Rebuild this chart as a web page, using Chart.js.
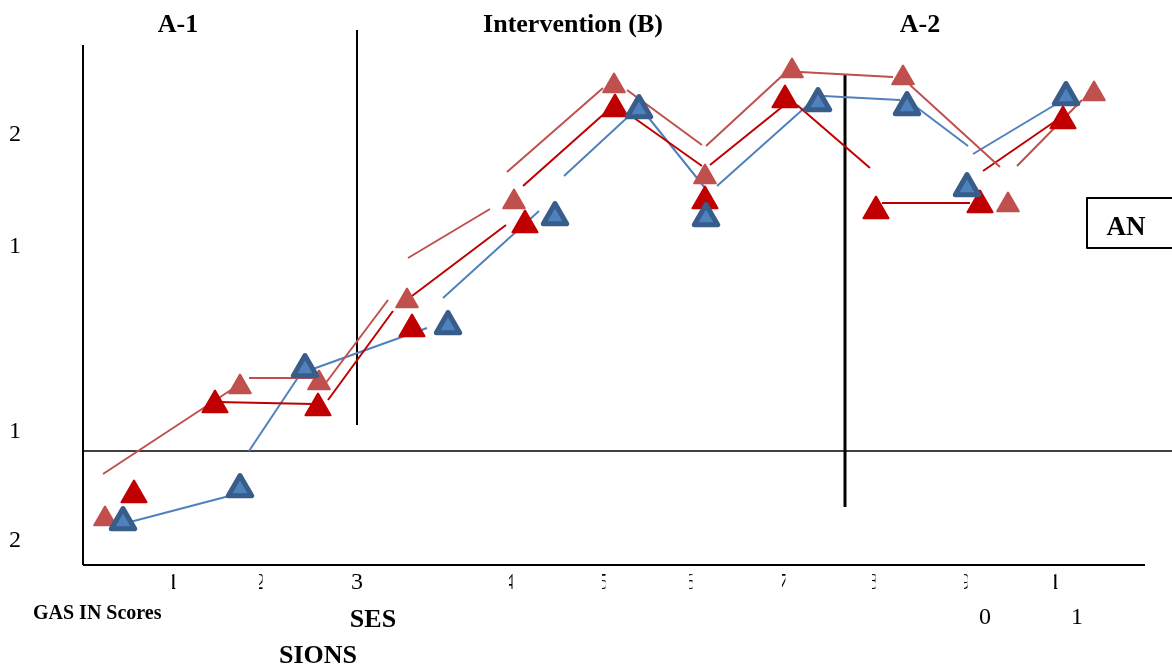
<!DOCTYPE html>
<html><head><meta charset="utf-8">
<script src="https://cdn.jsdelivr.net/npm/chart.js@4"></script>
<style>html,body{margin:0;padding:0;background:#fff}#wrap{width:1172px;height:668px;position:relative}</style>
</head><body><div id="wrap"><canvas id="c"></canvas></div>
<script>
// ---- data (x = session position, y = GAS scale position, both) ----
const xTickPos    = [0.90, 1.77, 2.74, 4.27, 5.20, 6.07, 7.00, 7.90, 8.82, 9.72];
const xTickLabels = ['1','2','3','4','5','6','7','8','9','1'];
const xTickPos2    = [9.02, 9.94];
const xTickLabels2 = ['0','1'];
const yTickPos    = [4.30, 3.18, 1.33, 0.24];
const yTickLabels = ['2','1','1','2'];

const darkRedX  = [0.51, 1.32, 2.35, 3.29, 4.42, 5.32, 6.22, 7.02, 7.93, 8.97, 9.80];
const darkRedY  = [0.70, 1.60, 1.57, 2.36, 3.40, 4.56, 3.64, 4.65, 3.54, 3.60, 4.44];
const lightRedX = [0.22, 1.57, 2.36, 3.24, 4.31, 5.31, 6.22, 7.09, 8.20, 9.25, 10.11];
const lightRedY = [0.46, 1.78, 1.82, 2.64, 3.63, 4.79, 3.88, 4.94, 4.87, 3.60, 4.71];
const blueX     = [0.40, 1.57, 2.22, 3.65, 4.72, 5.56, 6.23, 7.35, 8.24, 8.84, 9.83];
const blueY     = [0.43, 0.76, 1.96, 2.39, 3.48, 4.55, 3.47, 4.62, 4.58, 3.77, 4.68];

// connecting line pieces [x1, y1, x2, y2]
const lightRedSegs = [
  [0.20,0.91,1.57,1.81],[1.66,1.87,2.35,1.87],[2.39,1.77,3.05,2.65],[3.25,3.07,4.07,3.56],
  [4.24,3.93,5.20,4.77],[5.44,4.75,6.19,4.20],[6.23,4.19,7.00,4.90],[7.17,4.93,8.10,4.88],
  [8.27,4.80,9.17,3.98],[9.34,3.99,9.99,4.65]];
const darkRedSegs = [
  [1.34,1.63,2.30,1.61],[2.45,1.65,3.10,2.54],[3.29,2.69,4.23,3.40],[4.40,3.79,5.22,4.52],
  [5.47,4.50,6.19,3.99],[6.27,4.00,6.99,4.58],[7.14,4.60,7.87,3.97],[7.99,3.62,8.87,3.62],
  [9.00,3.94,9.74,4.45]];
const blueSegs = [
  [0.47,0.43,1.50,0.70],[1.66,1.14,2.22,1.98],[2.27,1.95,3.44,2.37],[3.60,2.67,4.56,3.54],
  [4.81,3.89,5.47,4.50],[5.57,4.58,6.22,3.77],[6.34,3.79,7.27,4.62],[7.40,4.69,8.17,4.65],
  [8.32,4.59,8.85,4.19],[8.90,4.11,9.75,4.62]];

// phase-change / reference lines
const phaseLines = [ {x:2.74, y1:5.35, y2:1.40, w:2}, {x:7.62, y1:4.90, y2:0.58, w:3} ];
const baselineY = 1.14;

function pts(xs, ys){ return xs.map((x,i)=>({x:x, y:ys[i]})); }
function segData(segs){
  const out=[];
  segs.forEach((s,i)=>{
    if(i){ const p=segs[i-1]; out.push({x:(p[2]+s[0])/2, y:null}); }
    out.push({x:s[0],y:s[1]},{x:s[2],y:s[3]});
  });
  return out;
}

const SERIF = '"Liberation Serif", "DejaVu Serif", serif';

const deco = {
  id:'deco',
  beforeDatasetDraw(chart){ chart.ctx.lineJoin='round'; chart.ctx.lineCap='round'; },
  beforeDatasetsDraw(chart){
    const {ctx, chartArea:a, scales:{x,y}} = chart;
    ctx.save();
    ctx.strokeStyle='#000';
    ctx.lineCap='butt';
    ctx.lineWidth=2;
    ctx.beginPath(); ctx.moveTo(a.left, a.top); ctx.lineTo(a.left, a.bottom); ctx.stroke();
    ctx.beginPath(); ctx.moveTo(a.left, a.bottom); ctx.lineTo(a.right, a.bottom); ctx.stroke();
    ctx.lineWidth=1.6;
    const by=y.getPixelForValue(baselineY);
    ctx.beginPath(); ctx.moveTo(a.left, by); ctx.lineTo(chart.width, by); ctx.stroke();
    phaseLines.forEach(p=>{
      ctx.lineWidth=p.w;
      const px=x.getPixelForValue(p.x);
      ctx.beginPath(); ctx.moveTo(px, y.getPixelForValue(p.y1)); ctx.lineTo(px, y.getPixelForValue(p.y2)); ctx.stroke();
    });
    ctx.restore();
  },
  afterDraw(chart){
    const {ctx, chartArea:a, scales:{x,y}} = chart;
    ctx.save();
    ctx.fillStyle='#000';
    ctx.textAlign='center'; ctx.textBaseline='middle';
    ctx.font='24px '+SERIF;
    yTickLabels.forEach((t,i)=>{ ctx.fillText(t, 15, y.getPixelForValue(yTickPos[i])); });
    ctx.font='24px '+SERIF;
    xTickLabels.forEach((t,i)=>{
      const px=x.getPixelForValue(xTickPos[i]);
      ctx.save();
      if(i!==2){ ctx.beginPath(); ctx.rect(px-1, a.bottom, 3.5, 60); ctx.clip(); }
      ctx.fillText(t, px, 583);
      ctx.restore();
    });
    xTickLabels2.forEach((t,i)=>{ ctx.fillText(t, x.getPixelForValue(xTickPos2[i]), 618); });
    ctx.font='bold 26px '+SERIF;
    ctx.fillText('A-1', 178, 25);
    ctx.fillText('Intervention (B)', 573, 25);
    ctx.fillText('A-2', 920, 25);
    ctx.font='bold 20px '+SERIF;
    ctx.textAlign='left';
    ctx.fillText('GAS IN Scores', 33, 614);
    ctx.textAlign='center';
    ctx.font='bold 26px '+SERIF;
    ctx.fillText('SES', 373, 620);
    ctx.fillText('SIONS', 318, 656);
    ctx.lineWidth=2; ctx.strokeStyle='#000';
    ctx.strokeRect(1087, 198, 100, 50);
    ctx.font='bold 27px '+SERIF;
    ctx.fillText('AN', 1126, 228);
    ctx.restore();
  }
};

const lineBase = {showLine:true, pointRadius:0, borderWidth:2, spanGaps:false, order:5, clip:false};
const markBase = {showLine:false, pointStyle:'triangle', clip:false};

new Chart(document.getElementById('c'), {
  type:'scatter',
  data:{ datasets:[
    Object.assign({}, lineBase, {label:'lightRedLine', data:segData(lightRedSegs), borderColor:'#C0504D'}),
    Object.assign({}, lineBase, {label:'darkRedLine',  data:segData(darkRedSegs),  borderColor:'#C00000'}),
    Object.assign({}, lineBase, {label:'blueLine',     data:segData(blueSegs),     borderColor:'#4F81BD'}),
    Object.assign({}, markBase, {label:'lightRed', data:pts(lightRedX, lightRedY), pointRadius:12.5,
      backgroundColor:'#C0504D', borderColor:'#C0504D', pointBorderWidth:2, order:3}),
    Object.assign({}, markBase, {label:'darkRed', data:pts(darkRedX, darkRedY), pointRadius:14.5,
      backgroundColor:'#C00000', borderColor:'#C00000', pointBorderWidth:2, order:2}),
    Object.assign({}, markBase, {label:'blue', data:pts(blueX, blueY), pointRadius:13.5,
      backgroundColor:'#4F81BD', borderColor:'#385D8A', pointBorderWidth:5, order:1}),
  ]},
  options:{
    responsive:true, maintainAspectRatio:false, animation:false,
    layout:{padding:{left:83, top:45, right:27, bottom:103}},
    scales:{
      x:{type:'linear', min:0, max:10.62, display:false},
      y:{type:'linear', min:0, max:5.2, display:false}
    },
    plugins:{legend:{display:false}, tooltip:{enabled:false}}
  },
  plugins:[deco]
});
</script></body></html>
